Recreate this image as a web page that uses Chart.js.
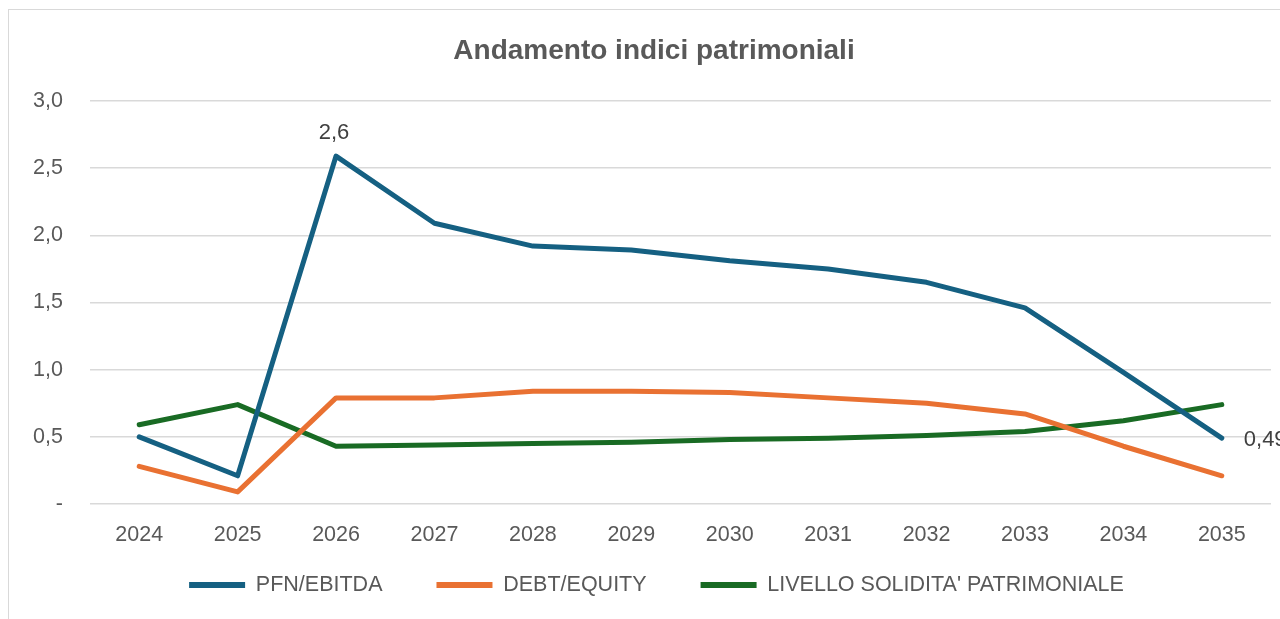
<!DOCTYPE html>
<html>
<head>
<meta charset="utf-8">
<script src="https://cdn.jsdelivr.net/npm/chart.js@4"></script>
<style>
  html, body { margin: 0; padding: 0; background: #fff; }
  body { width: 1280px; height: 619px; position: relative; overflow: hidden; }
  .frame { position: absolute; left: 8px; top: 9px; width: 1300px; height: 700px; border: 1.5px solid #d9d9d9; }
  #chart { position: absolute; left: 0; top: 0; }
</style>
</head>
<body>
<div class="frame"></div>
<canvas id="chart" width="1280" height="619"></canvas>
<script>
const years = ['2024', '2025', '2026', '2027', '2028', '2029', '2030', '2031', '2032', '2033', '2034', '2035'];
const pfnEbitda = [0.50, 0.21, 2.59, 2.09, 1.92, 1.89, 1.81, 1.75, 1.65, 1.46, 0.98, 0.49];
const debtEquity = [0.28, 0.09, 0.79, 0.79, 0.84, 0.84, 0.83, 0.79, 0.75, 0.67, 0.43, 0.21];
const solidita = [0.59, 0.74, 0.43, 0.44, 0.45, 0.46, 0.48, 0.49, 0.51, 0.54, 0.62, 0.74];
const yTickLabels = ['-', '0,5', '1,0', '1,5', '2,0', '2,5', '3,0'];
// data labels shown on the PFN/EBITDA line
const pfnLabels = [null, null, '2,6', null, null, null, null, null, null, null, null, '0,49'];
const pfnLabelSide = [null, null, 'top', null, null, null, null, null, null, null, null, 'right'];

const FONT = "'Liberation Sans', Arial, sans-serif";
const LEGEND_PAD = 54;

// simple data label drawing, no datalabels plugin available
const pointLabels = {
  id: 'pointLabels',
  afterDatasetsDraw(chart) {
    const ctx = chart.ctx;
    const meta = chart.getDatasetMeta(0);
    ctx.save();
    ctx.font = '22px ' + FONT;
    ctx.fillStyle = '#404040';
    ctx.textBaseline = 'middle';
    meta.data.forEach((pt, i) => {
      const txt = pfnLabels[i];
      if (!txt) return;
      if (pfnLabelSide[i] === 'top') {
        ctx.textAlign = 'center';
        ctx.fillText(txt, pt.x - 2, pt.y - 23);
      } else {
        ctx.textAlign = 'left';
        ctx.fillText(txt, pt.x + 22, pt.y + 2);
      }
    });
    ctx.restore();
  }
};

// title and legend sit a bit right of centre in the original, legend lower
const nudge = {
  id: 'nudge',
  afterLayout(chart) {
    const lg = chart.legend;
    const tt = chart.titleBlock;
    if (lg) {
      const h = lg.height;
      lg.left += 17; lg.right += 17;
      lg.top = 585 - LEGEND_PAD - 10.75;
      lg.bottom = lg.top + h;
    }
    if (tt) { tt.left += 14.5; tt.right += 14.5; }
  }
};

const lineStyle = (color) => ({
  borderColor: color,
  backgroundColor: color,
  borderWidth: 5,
  borderCapStyle: 'round',
  borderJoinStyle: 'round',
  pointRadius: 0,
  pointHoverRadius: 0,
  tension: 0,
  fill: false,
});

new Chart(document.getElementById('chart'), {
  type: 'line',
  data: {
    labels: years,
    datasets: [
      { label: 'PFN/EBITDA', data: pfnEbitda, ...lineStyle('#156082') },
      { label: 'DEBT/EQUITY', data: debtEquity, ...lineStyle('#E97132') },
      { label: "LIVELLO SOLIDITA' PATRIMONIALE", data: solidita, ...lineStyle('#196B24') },
    ],
  },
  plugins: [pointLabels, nudge],
  options: {
    responsive: false,
    animation: false,
    layout: { padding: { left: 8, right: 9, top: 0, bottom: -32.3 } },
    plugins: {
      title: {
        display: true,
        text: 'Andamento indici patrimoniali',
        color: '#595959',
        font: { family: FONT, size: 28, weight: 'bold' },
        padding: { top: 34, bottom: 33.4 },
      },
      legend: {
        position: 'bottom',
        labels: {
          color: '#595959',
          font: { family: FONT, size: 21.5 },
          boxWidth: 56,
          boxHeight: 6,
          padding: LEGEND_PAD,
          useBorderRadius: true,
          borderRadius: 3,
          generateLabels(chart) {
            return chart.data.datasets.map((ds, i) => ({
              text: ds.label,
              fillStyle: ds.borderColor,
              strokeStyle: ds.borderColor,
              lineWidth: 0,
              fontColor: '#595959',
              datasetIndex: i,
              hidden: false,
            }));
          },
        },
      },
      tooltip: { enabled: false },
    },
    scales: {
      x: {
        offset: true,
        grid: { display: false, drawTicks: false },
        border: { display: false },
        ticks: { color: '#595959', font: { family: FONT, size: 21.5 }, padding: 18, maxRotation: 0 },
      },
      y: {
        min: 0,
        max: 3,
        grid: { color: '#d9d9d9', lineWidth: 1.5, drawTicks: false },
        border: { display: false },
        ticks: {
          stepSize: 0.5,
          color: '#595959',
          font: { family: FONT, size: 21.5 },
          padding: 27,
          callback(value, index) { return yTickLabels[index]; },
        },
        afterFit(scale) { scale.width = 82; },
      },
    },
  },
});
</script>
</body>
</html>
